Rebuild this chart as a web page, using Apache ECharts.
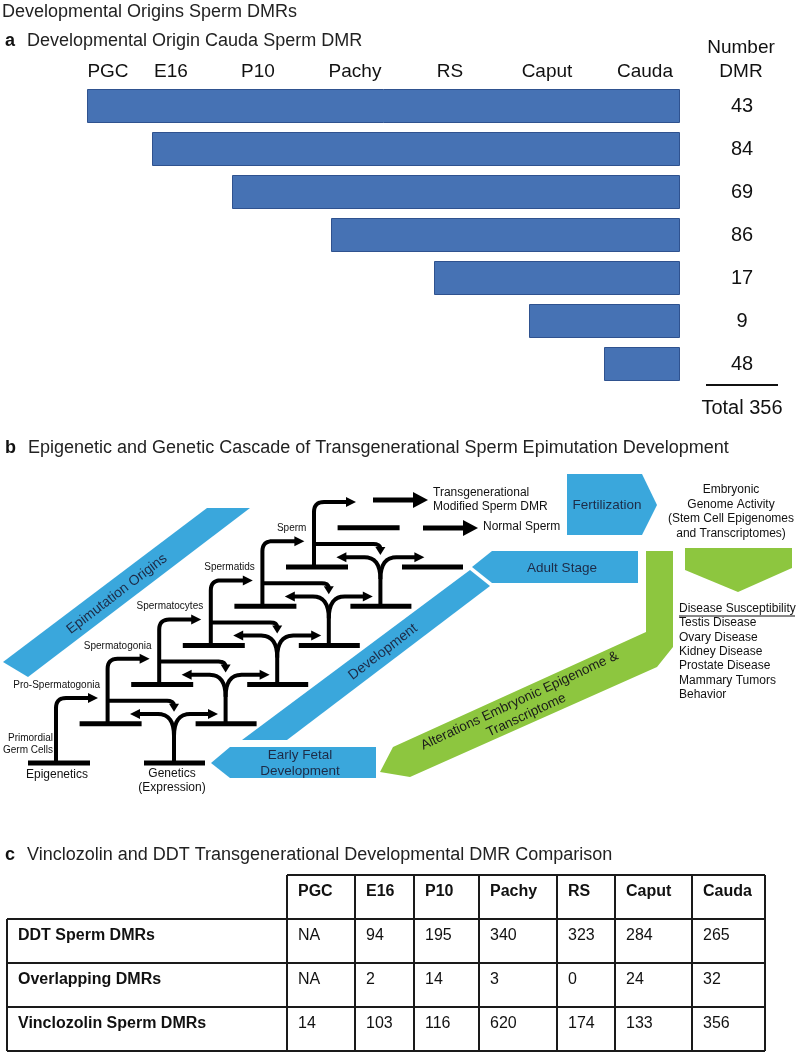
<!DOCTYPE html>
<html><head><meta charset="utf-8">
<script src="https://cdn.jsdelivr.net/npm/echarts@6/dist/echarts.min.js"></script>
<style>html,body{margin:0;padding:0;background:#fff}#c{width:800px;height:1055px}</style>
</head><body><div id="c"></div>
<script>
// ---------- data ----------
const stages = ['PGC','E16','P10','Pachy','RS','Caput','Cauda'];
const dmrCounts = [43,84,69,86,17,9,48];
const onset = [0,65,145,244,347,442,517];   // bar start on the developmental time scale
const stageEnd = 593;                        // end of all bars (Cauda)
const cellTypes = ['Primordial\nGerm Cells','Pro-Spermatogonia','Spermatogonia','Spermatocytes','Spermatids','Sperm'];
const diseases = ['Testis Disease','Ovary Disease','Kidney Disease','Prostate Disease','Mammary Tumors','Behavior'];
const tableRows = ['DDT Sperm DMRs','Overlapping DMRs','Vinclozolin Sperm DMRs'];
const ddtDMR = ['NA',94,195,340,323,284,265];
const overlapDMR = ['NA',2,14,3,0,24,32];
const vinclozolinDMR = [14,103,116,620,174,133,356];

// ---------- helpers ----------
const F = '"Liberation Sans", Arial, Helvetica, sans-serif';
const G = [];
function T(x,y,text,size,o){o=o||{};G.push({type:'text',x:x,y:y,rotation:o.rot||0,z:o.z||50,silent:true,
  style:{text:text,fill:o.color||'#111',fontSize:size,fontFamily:F,fontWeight:o.bold?'bold':'normal',
  align:o.align||'left',verticalAlign:'middle',lineHeight:o.lh||Math.round(size*1.2)}});}
function P(points,fill,z){G.push({type:'polygon',z:z||10,silent:true,shape:{points:points},style:{fill:fill}});}
function R(x,y,w,h,fill,z){G.push({type:'rect',z:z||20,silent:true,shape:{x:x,y:y,width:w,height:h},style:{fill:fill}});}
function L(pts,w,color,z){G.push({type:'polyline',z:z||20,silent:true,shape:{points:pts},style:{stroke:color||'#000',lineWidth:w,fill:null,lineJoin:'round'}});}
function quad(a,c,b,n){n=n||8;const out=[];for(let k=1;k<=n;k++){const t=k/n,u=1-t;
  out.push([u*u*a[0]+2*u*t*c[0]+t*t*b[0],u*u*a[1]+2*u*t*c[1]+t*t*b[1]]);}return out;}

// ---------- panel a texts ----------
T(2,12,'Developmental Origins Sperm DMRs',18,{color:'#222'});
T(5,41,'a',18,{bold:true});
T(27,41,'Developmental Origin Cauda Sperm DMR',18,{color:'#222'});
const stageLabelX=[108,171,258,355,450,547,645];
stages.forEach((s,i)=>T(stageLabelX[i],72,s,19,{align:'center'}));
T(741,48,'Number',19,{align:'center'});
T(741,72,'DMR',19,{align:'center'});
L([[706,385],[778,385]],2,'#111');
T(742,408,'Total '+dmrCounts.reduce((a,b)=>a+b,0),20,{align:'center'});

// ---------- panel b ----------
T(5,448,'b',18,{bold:true});
T(28,448,'Epigenetic and Genetic Cascade of Transgenerational Sperm Epimutation Development',18,{color:'#222'});
const BLUE='#3aa7dc', GREEN='#8dc63f', NAVY='#1d2b47';
P([[207,508],[250,508],[28,677],[3,662]],BLUE);
T(117,594,'Epimutation Origins',14,{align:'center',rot:0.654,color:NAVY});
P([[242,740],[287,740],[490,586],[470,570]],BLUE);
T(383,652,'Development',14,{align:'center',rot:0.654,color:NAVY});
P([[472,567],[492,551],[638,551],[638,583],[492,583]],BLUE);
T(562,568,'Adult Stage',13.5,{align:'center',color:NAVY});
P([[567,474],[642,474],[657,505],[642,535],[567,535]],BLUE);
T(607,505,'Fertilization',13.5,{align:'center',color:NAVY});
P([[211,763],[230,747],[376,747],[376,778],[230,778]],BLUE);
T(300,763,'Early Fetal\nDevelopment',13.5,{align:'center',color:NAVY,lh:16});
P([[646,551],[673,551],[673,647],[657,667],[410,777],[380,772],[393,747],[646,632]],GREEN);
T(523,708,'Alterations Embryonic Epigenome &\nTranscriptome',13.5,{align:'center',rot:0.436,color:'#1a1a1a',lh:16});
P([[685,548],[792,548],[792,568],[738,592],[685,570]],GREEN);

// cascade
const dX=51.6,dY=39.2,bx0=28,by0=763;
for(let i=0;i<=6;i++){
  const bx=bx0+dX*i, by=by0-dY*i;
  R(bx,by-2.5,62,5,'#000');
  if(i===6) break;
  const sx=bx+28;
  L([[sx,by],[sx,by-55]].concat(quad([sx,by-55],[sx,by-65],[sx+10,by-65])).concat([[sx+33,by-65]]),4);
  P([[sx+32,by-70],[sx+42,by-65],[sx+32,by-60]],'#000',21);
  const gx=bx+116;
  R(gx,by-2.5,61,5,'#000');
  if(i<5){
    const gs=gx+30;
    L([[gs,by],[gs,by-27]].concat(quad([gs,by-27],[gs,by-49],[gs-16,by-49])).concat([[gs-35,by-49]]),4);
    L([[gs,by-27]].concat(quad([gs,by-27],[gs,by-49],[gs+16,by-49])).concat([[gs+35,by-49]]),4);
    P([[gs-34,by-54],[gs-44,by-49],[gs-34,by-44]],'#000',21);
    P([[gs+34,by-54],[gs+44,by-49],[gs+34,by-44]],'#000',21);
  }
  if(i>=1){
    const tx=bx-dX+146;
    L([[sx,by-23],[tx-7,by-23]].concat(quad([tx-7,by-23],[tx,by-23],[tx,by-18],4)),4);
    P([[tx-5,by-20],[tx+5,by-20],[tx,by-12]],'#000',21);
  }
  // cell type labels
  if(i===0){
    T(53,744,cellTypes[0],10,{align:'right',lh:12});
  } else {
    const pbx=bx0+dX*(i-1), pby=by0-dY*(i-1);
    T(pbx+28+44,pby-65-13,cellTypes[i],10,{align:'right'});
  }
}
// thick output arrows
R(373,497.5,41,5,'#000'); P([[413,492],[428,500],[413,508]],'#000',21);
R(423,525.5,41,5,'#000'); P([[463,520],[478,528],[463,536]],'#000',21);
T(433,500,'Transgenerational\nModified Sperm DMR',12,{lh:14});
T(483,527,'Normal Sperm',12);
T(731,511.5,'Embryonic\nGenome Activity\n(Stem Cell Epigenomes\nand Transcriptomes)',12,{align:'center',lh:14.5});
T(679,609,'Disease Susceptibility',12);
L([[679,616],[795,616]],1,'#111');
diseases.forEach((d,k)=>T(679,623+14.3*k,d,12));
T(57,775,'Epigenetics',12,{align:'center'});
T(172,781,'Genetics\n(Expression)',12,{align:'center',lh:14});

// ---------- panel c ----------
T(5,855,'c',18,{bold:true});
T(27,855,'Vinclozolin and DDT Transgenerational Developmental DMR Comparison',18,{color:'#222'});
const colX=[287,355,414,479,557,615,692,765], rowY=[875,919,963,1007,1051];
const LC='#1a1a1a';
L([[colX[0],rowY[0]],[colX[7],rowY[0]]],2,LC);
for(let r=1;r<rowY.length;r++) L([[7,rowY[r]],[colX[7],rowY[r]]],2,LC);
colX.forEach(x=>L([[x,rowY[0]],[x,rowY[4]]],2,LC));
L([[7,rowY[1]],[7,rowY[4]]],2,LC);
stages.forEach((s,i)=>T(colX[i]+11,rowY[0]+17,s,16,{bold:true}));
const tableVals=[ddtDMR,overlapDMR,vinclozolinDMR];
tableRows.forEach((lab,r)=>{
  T(18,rowY[r+1]+17,lab,16,{bold:true});
  tableVals[r].forEach((v,i)=>T(colX[i]+11,rowY[r+1]+17,String(v),16));
});

// ---------- chart ----------
const chart=echarts.init(document.getElementById('c'),null,{renderer:'canvas'});
chart.setOption({
  animation:false,
  backgroundColor:'#fff',
  grid:{left:87,width:593,top:84.5,height:301},
  xAxis:{type:'value',min:0,max:stageEnd,show:false},
  yAxis:[
    {type:'category',data:stages,inverse:true,show:false},
    {type:'category',data:dmrCounts.map(String),inverse:true,position:'right',
     axisLine:{show:false},axisTick:{show:false},splitLine:{show:false},
     axisLabel:{margin:62,align:'center',fontSize:20,color:'#111',fontFamily:F}}
  ],
  series:[
    {type:'bar',stack:'s',data:onset,barWidth:34,itemStyle:{color:'rgba(0,0,0,0)'},silent:true},
    {type:'bar',stack:'s',data:onset.map(v=>stageEnd-v),barWidth:34,
     itemStyle:{color:'#4672b4',borderColor:'#2f528f',borderWidth:1}}
  ],
  graphic:{elements:G}
});
</script></body></html>
